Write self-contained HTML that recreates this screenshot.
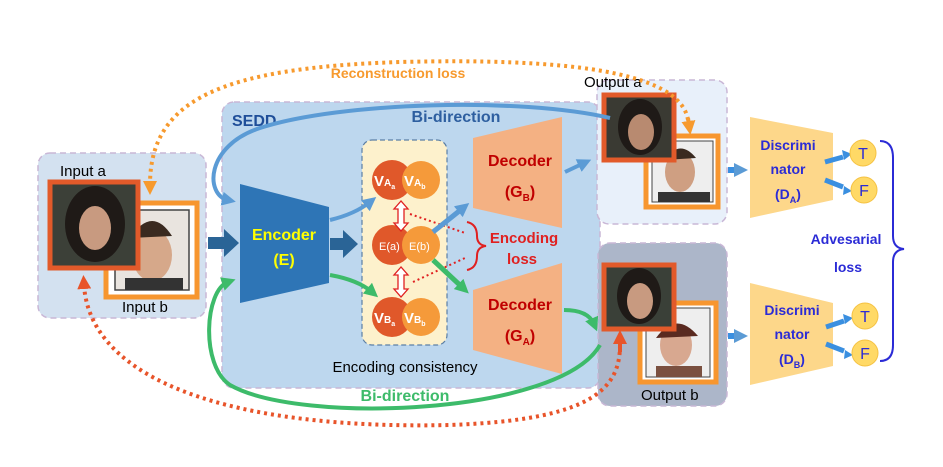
<!DOCTYPE html>
<html><head><meta charset="utf-8"><style>
html,body{margin:0;padding:0;background:#fff;}
svg{display:block;font-family:"Liberation Sans",sans-serif;}
</style></head><body>
<svg width="943" height="467" viewBox="0 0 943 467" xmlns="http://www.w3.org/2000/svg">
<defs>
<marker id="ab" markerWidth="14" markerHeight="14" refX="6" refY="7" orient="auto" markerUnits="userSpaceOnUse"><path d="M0,0 L14,7 L0,14 z" fill="#5b9bd5"/></marker>
<marker id="ag" markerWidth="14" markerHeight="14" refX="6" refY="7" orient="auto" markerUnits="userSpaceOnUse"><path d="M0,0 L14,7 L0,14 z" fill="#3dbb6a"/></marker>
<marker id="ao" markerWidth="14" markerHeight="14" refX="4" refY="7" orient="auto" markerUnits="userSpaceOnUse"><path d="M0,0 L14,7 L0,14 z" fill="#f79a2e"/></marker>
<marker id="ar" markerWidth="14" markerHeight="14" refX="4" refY="7" orient="auto" markerUnits="userSpaceOnUse"><path d="M0,0 L14,7 L0,14 z" fill="#e8542a"/></marker>
</defs>
<rect x="222" y="102" width="378" height="286" rx="12" fill="#bdd7ee" stroke="#c9b7d6" stroke-dasharray="6,4" stroke-width="1.5"/>
<text x="232" y="126" font-size="16" font-weight="bold" fill="#1f4e99">SEDD</text>
<rect x="38" y="153" width="168" height="165" rx="12" fill="#d3e1f0" stroke="#c9b7d6" stroke-dasharray="6,4" stroke-width="1.5"/>
<text x="60" y="176" font-size="15" fill="#000">Input a</text>
<text x="122" y="312" font-size="15" fill="#000">Input b</text>
<rect x="106" y="203" width="91" height="94" fill="#fff" stroke="#f7962f" stroke-width="5"/>
<rect x="115" y="210" width="74" height="80" fill="#e9e4df" stroke="#444" stroke-width="1.5"/>
<ellipse cx="152" cy="255" rx="20" ry="26" fill="#d6a88a"/><path d="M130,238 Q152,205 172,236 Z" fill="#3a2a20"/><rect x="125" y="278" width="58" height="12" fill="#333"/>
<rect x="50" y="182" width="88" height="86" fill="#3c4038" stroke="#e25a2a" stroke-width="5"/>
<ellipse cx="95" cy="224" rx="30" ry="38" fill="#1f1a17"/><ellipse cx="95" cy="228" rx="16" ry="22" fill="#c89a80"/>
<rect x="597" y="80" width="130" height="144" rx="12" fill="#e8f0fa" stroke="#c9b7d6" stroke-dasharray="6,4" stroke-width="1.5"/>
<text x="584" y="87" font-size="15" fill="#000">Output a</text>
<rect x="646" y="136" width="72" height="71" fill="#fff" stroke="#f7962f" stroke-width="5"/>
<rect x="652" y="141" width="61" height="61" fill="#eee" stroke="#444" stroke-width="1"/>
<ellipse cx="680" cy="172" rx="15" ry="20" fill="#cf9f82"/><path d="M664,160 Q680,138 696,158 Z" fill="#3a2a20"/><rect x="658" y="192" width="52" height="10" fill="#333"/>
<rect x="604" y="95" width="70" height="65" fill="#3a3a33" stroke="#e25a2a" stroke-width="5"/>
<ellipse cx="640" cy="127" rx="22" ry="28" fill="#1f1a17"/><ellipse cx="641" cy="132" rx="13" ry="18" fill="#b88a70"/>
<rect x="598" y="243" width="129" height="163" rx="12" fill="#acb6c9" stroke="#c9b7d6" stroke-dasharray="6,4" stroke-width="1.5"/>
<text x="641" y="400" font-size="15" fill="#000">Output b</text>
<rect x="640" y="303" width="76" height="79" fill="#fff" stroke="#f7962f" stroke-width="5"/>
<rect x="646" y="308" width="64" height="69" fill="#eee" stroke="#444" stroke-width="1"/>
<ellipse cx="676" cy="345" rx="16" ry="21" fill="#d8a890"/><path d="M656,338 Q676,310 698,336 Z" fill="#5a2a20"/><rect x="656" y="366" width="46" height="11" fill="#7a5040"/>
<rect x="604" y="265" width="70" height="64" fill="#3a4038" stroke="#e25a2a" stroke-width="5"/>
<ellipse cx="639" cy="296" rx="22" ry="28" fill="#1f1a17"/><ellipse cx="640" cy="301" rx="13" ry="18" fill="#c89a80"/>
<polygon points="208,237 224,237 224,229 239,243 224,257 224,249 208,249" fill="#2a6496"/>
<polygon points="240,184 329,207 329,283 240,303" fill="#2e75b6"/>
<text x="284" y="240" font-size="16" font-weight="bold" fill="#ffff00" text-anchor="middle">Encoder</text>
<text x="284" y="265" font-size="16" font-weight="bold" fill="#ffff00" text-anchor="middle">(E)</text>
<polygon points="330,238 343,238 343,230 358,244 343,258 343,250 330,250" fill="#2a6496"/>
<rect x="362" y="140" width="85" height="205" rx="10" fill="#fdf1cc" stroke="#5b7fa6" stroke-dasharray="5,3" stroke-width="1.2"/>
<text x="405" y="372" font-size="15" fill="#000" text-anchor="middle">Encoding consistency</text>
<circle cx="392" cy="180" r="20" fill="#e0582a"/><circle cx="421" cy="180" r="19" fill="#f59a3a"/>
<circle cx="392" cy="245" r="20" fill="#e0582a"/><circle cx="421" cy="245" r="19" fill="#f59a3a"/>
<circle cx="392" cy="317" r="20" fill="#e0582a"/><circle cx="421" cy="317" r="19" fill="#f59a3a"/>
<g fill="#fff" font-weight="bold">
<text x="374" y="186" font-size="15">V<tspan font-size="10">A</tspan><tspan font-size="7" dy="3">a</tspan></text>
<text x="404" y="186" font-size="15">V<tspan font-size="10">A</tspan><tspan font-size="7" dy="3">b</tspan></text>
<text x="374" y="323" font-size="15">V<tspan font-size="10">B</tspan><tspan font-size="7" dy="3">a</tspan></text>
<text x="404" y="323" font-size="15">V<tspan font-size="10">B</tspan><tspan font-size="7" dy="3">b</tspan></text>
</g>
<text x="379" y="250" font-size="11" fill="#fff">E(a)</text><text x="409" y="250" font-size="11" fill="#fff">E(b)</text>
<path d="M401,201 l-7,8 h4 v14 h-4 l7,8 l7,-8 h-4 v-14 h4 z" fill="#fff" stroke="#e02020" stroke-width="1.3"/>
<path d="M401,267 l-7,8 h4 v14 h-4 l7,8 l7,-8 h-4 v-14 h4 z" fill="#fff" stroke="#e02020" stroke-width="1.3"/>
<path d="M410,214 L465,233 M413,282 L465,258" stroke="#e02020" stroke-width="2" stroke-dasharray="2,3"/>
<path d="M467,222 Q477,224 477,236 Q477,245 486,246 Q477,247 477,256 Q477,268 467,270" fill="none" stroke="#e02020" stroke-width="2"/>
<text x="524" y="243" font-size="15" font-weight="bold" fill="#e02020" text-anchor="middle">Encoding</text>
<text x="522" y="264" font-size="15" font-weight="bold" fill="#e02020" text-anchor="middle">loss</text>
<polygon points="473,138 562,117 562,228 473,208" fill="#f4b183"/>
<text x="520" y="166" font-size="16" font-weight="bold" fill="#c00000" text-anchor="middle">Decoder</text>
<text x="520" y="197" font-size="16" font-weight="bold" fill="#c00000" text-anchor="middle">(G<tspan font-size="10" dy="4">B</tspan><tspan dy="-4">)</tspan></text>
<polygon points="473,290 562,263 562,374 473,350" fill="#f4b183"/>
<text x="520" y="310" font-size="16" font-weight="bold" fill="#c00000" text-anchor="middle">Decoder</text>
<text x="520" y="341" font-size="16" font-weight="bold" fill="#c00000" text-anchor="middle">(G<tspan font-size="10" dy="4">A</tspan><tspan dy="-4">)</tspan></text>
<path d="M330,220 Q355,214 370,202" fill="none" stroke="#5b9bd5" stroke-width="4" marker-end="url(#ab)"/>
<path d="M433,232 L463,208" fill="none" stroke="#5b9bd5" stroke-width="5" marker-end="url(#ab)"/>
<path d="M565,172 L584,163" fill="none" stroke="#5b9bd5" stroke-width="4" marker-end="url(#ab)"/>
<path d="M610,118 C520,97 340,102 260,128 C205,146 205,195 228,200" fill="none" stroke="#5b9bd5" stroke-width="4" marker-end="url(#ab)"/>
<text x="456" y="122" font-size="16" font-weight="bold" fill="#2e5fa0" text-anchor="middle">Bi-direction</text>
<path d="M330,275 Q358,280 372,292" fill="none" stroke="#3dbb6a" stroke-width="4" marker-end="url(#ag)"/>
<path d="M433,260 L463,288" fill="none" stroke="#3dbb6a" stroke-width="5" marker-end="url(#ag)"/>
<path d="M564,310 Q588,310 594,324" fill="none" stroke="#3dbb6a" stroke-width="4" marker-end="url(#ag)"/>
<path d="M600,345 C560,415 300,425 230,385 C200,365 205,290 228,282" fill="none" stroke="#3dbb6a" stroke-width="4" marker-end="url(#ag)"/>
<text x="405" y="401" font-size="16" font-weight="bold" fill="#3dbb6a" text-anchor="middle">Bi-direction</text>
<path d="M688,120 C680,70 560,58 400,62 C220,68 150,100 150,185" fill="none" stroke="#f79a2e" stroke-width="4" stroke-dasharray="3,4" marker-end="url(#ao)"/>
<path d="M688,118 L689,125" fill="none" stroke="#f79a2e" stroke-width="4" marker-end="url(#ao)"/>
<text x="398" y="78" font-size="14" font-weight="bold" fill="#f79a2e" text-anchor="middle">Reconstruction  loss</text>
<path d="M620,345 C620,390 590,420 450,425 C230,430 90,380 84,285" fill="none" stroke="#e8542a" stroke-width="4" stroke-dasharray="3,4" marker-end="url(#ar)"/>
<path d="M620,352 L620,340" fill="none" stroke="#e8542a" stroke-width="4" marker-end="url(#ar)"/>
<path d="M728,170 H740" stroke="#3a8fe0" stroke-width="6" marker-end="url(#ab)"/>
<path d="M728,336 H740" stroke="#3a8fe0" stroke-width="6" marker-end="url(#ab)"/>
<polygon points="750,117 833,133 833,200 750,218" fill="#fdd78a"/>
<polygon points="750,283 833,303 833,366 750,385" fill="#fdd78a"/>
<g font-size="14" font-weight="bold" fill="#2b2bd6" text-anchor="middle">
<text x="788" y="150">Discrimi</text><text x="788" y="174">nator</text><text x="788" y="199">(D<tspan font-size="9" dy="4">A</tspan><tspan dy="-4">)</tspan></text>
<text x="792" y="315">Discrimi</text><text x="792" y="339">nator</text><text x="792" y="364">(D<tspan font-size="9" dy="4">B</tspan><tspan dy="-4">)</tspan></text>
<text x="846" y="244">Advesarial</text><text x="848" y="272">loss</text>
</g>
<g stroke="#3a8fe0" stroke-width="5">
<path d="M825,162 L843,157"/><path d="M825,180 L843,187"/><path d="M826,327 L844,321"/><path d="M826,344 L844,351"/>
</g>
<g fill="#3a8fe0"><path d="M852,154 l-10,-4 2,10 z"/><path d="M852,191 l-9,4 1,-9 z"/><path d="M853,318 l-10,-4 2,10 z"/><path d="M853,355 l-9,4 1,-9 z"/></g>
<g fill="#ffd966" stroke="#f5c242" stroke-width="1">
<circle cx="863" cy="153" r="13"/><circle cx="864" cy="190" r="13"/><circle cx="865" cy="316" r="13"/><circle cx="865" cy="353" r="13"/>
</g>
<g font-size="16" fill="#2b2bd6" text-anchor="middle">
<text x="863" y="159">T</text><text x="864" y="196">F</text><text x="865" y="322">T</text><text x="865" y="359">F</text>
</g>
<path d="M880,141 Q893,141 893,158 V236 Q893,248 904,249 Q893,250 893,262 V345 Q893,361 880,361" fill="none" stroke="#2b2bd6" stroke-width="2"/>
</svg>
</body></html>
